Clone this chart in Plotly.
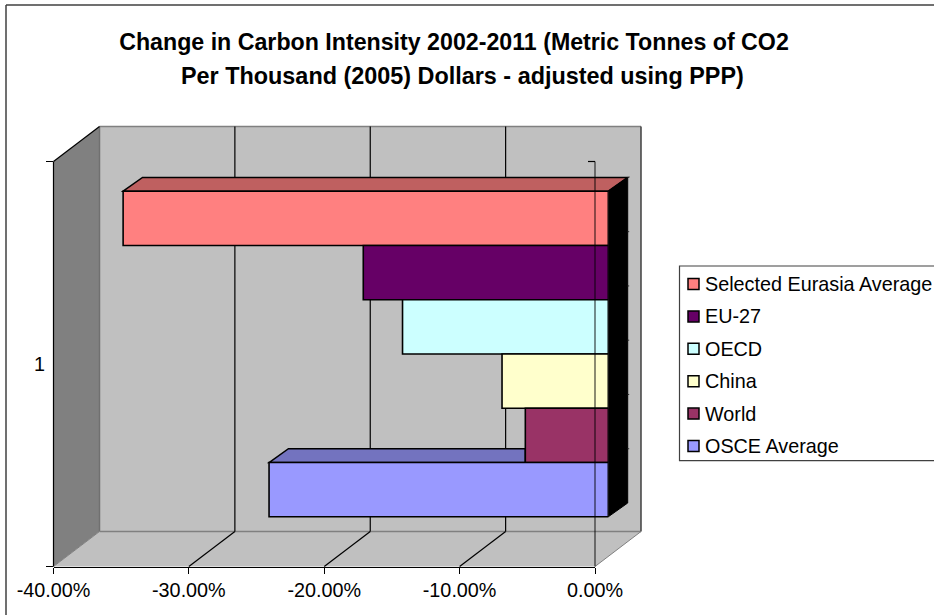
import plotly.graph_objects as go

# ---- data ----
series_names = ["Selected Eurasia Average", "EU-27", "OECD", "China", "World", "OSCE Average"]
series_values = [-0.3584, -0.181, -0.152, -0.0785, -0.0613, -0.2506]
series_colors = ["#FF8080", "#660066", "#CCFFFF", "#FFFFCC", "#993366", "#9999FF"]
category = ["1"]
tick_values = [-0.4, -0.3, -0.2, -0.1, 0.0]
tick_labels = ["-40.00%", "-30.00%", "-20.00%", "-10.00%", "0.00%"]
title_lines = ["Change in Carbon Intensity 2002-2011 (Metric Tonnes of CO2",
               "Per Thousand (2005) Dollars - adjusted using PPP)"]

W, H = 934, 615
FONT = "Liberation Sans, Arial, sans-serif"

# pseudo-3D box geometry (pixels)
FX0, FX1, FY0, FY1 = 53.5, 595.0, 161.5, 566.5      # front plane
DX, DY = 46.0, 35.0                                 # full depth offset
BX, BY = 13.3, 10.0                                 # plane of the bars' front faces
CX, CY = 19.4, 13.8                                 # bar depth
GAP = 0.196


def nx(p):
    return p / W


def ny(p):
    return 1 - p / H


def poly(points, fill, line=None, width=1, layer="below", close=True, opacity=1):
    d = "M" + " L".join(f"{nx(x):.5f},{ny(y):.5f}" for x, y in points) + (" Z" if close else "")
    return dict(type="path", path=d, xref="paper", yref="paper", fillcolor=fill,
                line=dict(color=line or "rgba(0,0,0,0)", width=width if line else 0),
                layer=layer, opacity=opacity)


def seg(p, q, color="#000000", width=1, layer="below", opacity=1):
    return dict(type="line", xref="paper", yref="paper", x0=nx(p[0]), y0=ny(p[1]), x1=nx(q[0]), y1=ny(q[1]),
                line=dict(color=color, width=width), layer=layer, opacity=opacity)


def front_x(v):
    return FX1 + (v / 0.4) * (FX1 - FX0)


shapes = []
# frame of the chart area (right and bottom run off the picture)
shapes.append(seg((6, 5), (W, 5), "#404040", 1.5))
shapes.append(seg((6, 5), (6, H), "#404040", 1.5))

# walls and floor
shapes.append(poly([(FX0 + DX, FY0 - DY), (FX1 + DX, FY0 - DY), (FX1 + DX, FY1 - DY), (FX0 + DX, FY1 - DY)], "#C0C0C0"))
shapes.append(poly([(FX0, FY0), (FX0 + DX, FY0 - DY), (FX0 + DX, FY1 - DY), (FX0, FY1)], "#808080"))
shapes.append(poly([(FX0, FY1), (FX0 + DX, FY1 - DY), (FX1 + DX, FY1 - DY), (FX1, FY1)], "#C0C0C0"))

# wall edges
shapes.append(seg((FX0 + DX, FY0 - DY), (FX1 + DX, FY0 - DY), "#808080", 1.5))
shapes.append(seg((FX0 + DX, FY0 - DY), (FX0 + DX, FY1 - DY), "#707070", 1.5))
shapes.append(seg((FX0 + DX, FY1 - DY), (FX1 + DX, FY1 - DY), "#808080", 1.5))
shapes.append(seg((FX1 + DX, FY0 - DY), (FX1 + DX, FY1 - DY), "#404040", 1.5))
shapes.append(seg((FX0, FY1), (FX0 + DX, FY1 - DY), "#808080", 1))
shapes.append(seg((FX1, FY1), (FX1 + DX, FY1 - DY), "#808080", 1))
shapes.append(seg((FX0, FY0), (FX0 + DX, FY0 - DY), "#000000", 1.2))
shapes.append(seg((FX0, FY0), (FX0, FY1), "#000000", 1.2))

# gridlines on the floor and back wall
for v in tick_values[1:-1]:
    x = front_x(v)
    shapes.append(seg((x, FY1), (x + DX, FY1 - DY), "#000000", 1.2))
    shapes.append(seg((x + DX, FY1 - DY), (x + DX, FY0 - DY), "#000000", 1.2))

# bar tops and the shared right end, derived from the values
plane_h = FY1 - FY0
bar_h = plane_h * (1 - GAP) / len(series_names)
bar_top = FY0 - BY + plane_h * GAP / 2
bar_zero = FX1 + BX
bar_scale = (FX1 - FX0) / 0.4
CAP_SHADE = {"#FF8080": "#BF6060", "#9999FF": "#7373BF"}
for i, (v, c) in enumerate(zip(series_values, series_colors)):
    y = bar_top + i * bar_h
    left = bar_zero + v * bar_scale
    if c in CAP_SHADE:
        # the cap is only visible beyond the bar standing in front of its back edge
        right = bar_zero if i == 0 else bar_zero + series_values[i - 1] * bar_scale
        far = bar_zero + CX if i == 0 else right
        shapes.append(poly([(left, y), (left + CX, y - CY), (far, y - CY), (right, y)], CAP_SHADE[c], "#000000", 1.5))

y_end = bar_top + len(series_names) * bar_h
shapes.append(poly([(bar_zero, bar_top), (bar_zero + CX, bar_top - CY), (bar_zero + CX, y_end - CY), (bar_zero, y_end)],
                   "#000000", "#000000", 1))
for i in range(len(series_names)):
    y = bar_top + i * bar_h - CY
    shapes.append(seg((bar_zero + CX, y), (bar_zero + CX + 1.5, y), "#303030", 1))

# front axis on top of the bars
shapes.append(seg((FX1, FY0), (FX1, FY1), "#000000", 1.2, layer="above", opacity=0.75))
shapes.append(seg((FX1 - 7, FY0), (FX1, FY0), "#000000", 1.2, layer="above"))

# legend block (its right side runs off the picture)
LX, LT, LB = 679.5, 266, 460.7
shapes.append(poly([(W + 4, LT), (LX, LT), (LX, LB), (W + 4, LB)], "rgba(0,0,0,0)", "#404040", 1.2, close=False))
annotations = []
row0, pitch = 284.0, 32.4
for i, (n, c) in enumerate(zip(series_names, series_colors)):
    yc = row0 + i * pitch
    shapes.append(poly([(688, yc - 5.5), (699, yc - 5.5), (699, yc + 5.5), (688, yc + 5.5)], c, "#000000", 1.5, layer="above"))
    annotations.append(dict(text=n, x=nx(705), y=ny(yc), xref="paper", yref="paper", xanchor="left", yanchor="middle",
                            showarrow=False, xshift=-2, font=dict(family=FONT, size=19.8, color="#000000")))

annotations.append(dict(text=category[0], x=nx(39), y=ny((FY0 + FY1) / 2), xref="paper", yref="paper",
                        xanchor="center", yanchor="middle", showarrow=False,
                        font=dict(family=FONT, size=19.8, color="#000000")))
annotations.append(dict(text=title_lines[1], x=nx(462), y=ny(76), xref="paper", yref="paper",
                        xanchor="center", yanchor="middle", showarrow=False,
                        font=dict(family=FONT, size=23.4, color="#000000", weight="bold")))

fig = go.Figure()
for n, v, c in zip(series_names, series_values, series_colors):
    fig.add_trace(go.Bar(name=n, x=[v], y=category, orientation="h", marker=dict(color=c, line=dict(color="#000000", width=1.6)),
                         showlegend=False, hovertemplate="%{fullData.name}: %{x:.2%}<extra></extra>"))
fig.add_trace(go.Scatter(x=[None], y=[None], xaxis="x2", yaxis="y2", showlegend=False, hoverinfo="skip"))

fig.update_layout(
    width=W, height=H, margin=dict(l=0, r=0, t=0, b=0, autoexpand=False), autosize=False,
    paper_bgcolor="#FFFFFF", plot_bgcolor="rgba(0,0,0,0)", showlegend=False,
    barmode="group", bargap=GAP, bargroupgap=0,
    title=dict(text=title_lines[0], x=nx(454), y=ny(42), xref="paper", yref="paper", xanchor="center", yanchor="middle",
               font=dict(family=FONT, size=23.2, color="#000000", weight="bold")),
    xaxis=dict(domain=[nx(bar_zero - 0.4 * bar_scale), nx(bar_zero)], range=[-0.4, 0], visible=False, automargin=False),
    yaxis=dict(domain=[ny(FY1 - BY), ny(FY0 - BY)], range=[0.5, -0.5], type="category", visible=False, automargin=False),
    xaxis2=dict(domain=[nx(FX0), nx(FX1)], range=[-0.4, 0], anchor="y2", tickmode="array", tickvals=tick_values, ticktext=tick_labels,
                ticks="outside", ticklen=6, tickcolor="#000000", showgrid=False, zeroline=False, showline=True, linecolor="#000000",
                automargin=False, tickfont=dict(family=FONT, size=19.8, color="#000000")),
    yaxis2=dict(domain=[ny(FY1), ny(FY0)], range=[0, 1], anchor="x2", tickmode="array", tickvals=[0, 1], ticktext=["", ""],
                ticks="outside", ticklen=7, tickcolor="#000000", showgrid=False, zeroline=False, showline=False, automargin=False),
    shapes=shapes, annotations=annotations,
)
fig.write_html("out.html", post_script="document.body.style.margin='0';", config=dict(displayModeBar=False))
